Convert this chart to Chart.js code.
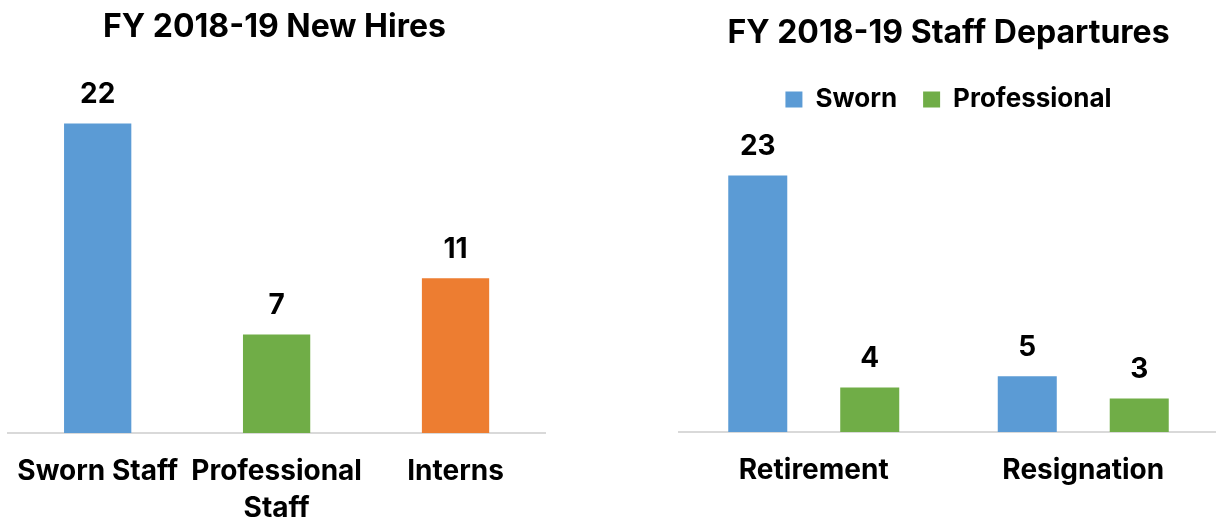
<!DOCTYPE html>
<html>
<head>
<meta charset="utf-8">
<script src="https://cdn.jsdelivr.net/npm/chart.js@4"></script>
<style>
  html, body { margin: 0; padding: 0; background: #fff; overflow: hidden; }
  body { width: 1216px; height: 521px; position: relative; }
  .box { position: absolute; top: 0; }
  #leftBox { left: -4px; width: 560px; height: 560px; }
  #rightBox { left: 616px; width: 620px; height: 560px; }
</style>
</head>
<body>
<div class="box" id="leftBox"><canvas id="hiresChart"></canvas></div>
<div class="box" id="rightBox"><canvas id="departChart"></canvas></div>
<script>
const hireCategories = ['Sworn Staff', ['Professional', 'Staff'], 'Interns'];
const hireValues = [22, 7, 11];
const hireColors = ['#5B9BD5', '#70AD47', '#ED7D31'];

const departCategories = ['Retirement', 'Resignation'];
const swornValues = [23, 5];
const professionalValues = [4, 3];

const FONT = 'Inter, "DejaVu Sans", sans-serif';

// draws the value above each bar
const valueLabels = {
  id: 'valueLabels',
  afterDatasetsDraw(chart) {
    const ctx = chart.ctx;
    ctx.save();
    ctx.font = 'bold 28px ' + FONT;
    ctx.fillStyle = '#000';
    ctx.textAlign = 'center';
    ctx.textBaseline = 'middle';
    chart.data.datasets.forEach((ds, i) => {
      chart.getDatasetMeta(i).data.forEach((bar, j) => {
        ctx.fillText(String(ds.data[j]), bar.x, bar.y - 29);
      });
    });
    ctx.restore();
  }
};

function xAxis() {
  return {
    grid: { display: false, drawTicks: false },
    border: { display: true, color: '#d9d9d9', width: 2 },
    ticks: {
      color: '#000',
      padding: 20,
      maxRotation: 0,
      autoSkip: false,
      font: { family: FONT, size: 28, weight: 'bold', lineHeight: 1.32 }
    }
  };
}

new Chart(document.getElementById('hiresChart'), {
  type: 'bar',
  data: {
    labels: hireCategories,
    datasets: [{
      label: 'New Hires',
      data: hireValues,
      backgroundColor: hireColors,
      categoryPercentage: 1,
      barPercentage: 0.376
    }]
  },
  options: {
    responsive: true,
    maintainAspectRatio: false,
    animation: false,
    layout: { padding: { left: 8, right: 11, top: 0, bottom: 13 } },
    plugins: {
      legend: { display: false },
      tooltip: { enabled: false },
      title: {
        display: true,
        text: 'FY 2018-19 New Hires',
        color: '#000',
        font: { family: FONT, size: 32, weight: 'bold', lineHeight: 1.2 },
        padding: { top: 8, bottom: 35 }
      }
    },
    scales: {
      x: xAxis(),
      y: { display: false, min: 0, max: 25 }
    }
  },
  plugins: [valueLabels]
});

new Chart(document.getElementById('departChart'), {
  type: 'bar',
  data: {
    labels: departCategories,
    datasets: [{
      label: 'Sworn',
      data: swornValues,
      backgroundColor: '#5B9BD5',
      categoryPercentage: 0.831,
      barPercentage: 0.527
    }, {
      label: 'Professional',
      data: professionalValues,
      backgroundColor: '#70AD47',
      categoryPercentage: 0.831,
      barPercentage: 0.527
    }]
  },
  options: {
    responsive: true,
    maintainAspectRatio: false,
    animation: false,
    layout: { padding: { left: 63, right: 18, top: 0, bottom: 51 } },
    plugins: {
      tooltip: { enabled: false },
      title: {
        display: true,
        text: 'FY 2018-19 Staff Departures',
        color: '#000',
        font: { family: FONT, size: 32, weight: 'bold', lineHeight: 1.2 },
        padding: { top: 14, bottom: 8 }
      },
      legend: {
        display: true,
        position: 'top',
        labels: {
          color: '#000',
          boxWidth: 17,
          boxHeight: 16,
          padding: 26,
          font: { family: FONT, size: 26, weight: 'bold' }
        }
      }
    },
    scales: {
      x: xAxis(),
      y: { display: false, min: 0, max: 27.75 }
    }
  },
  plugins: [valueLabels]
});
</script>
</body>
</html>
